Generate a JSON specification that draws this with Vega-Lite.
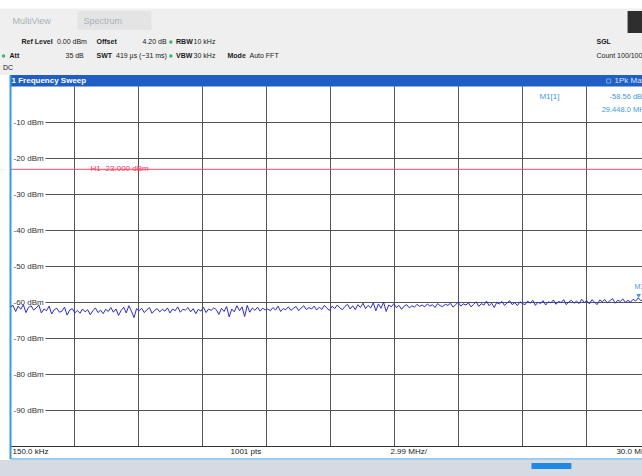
{
"$schema": "https://vega.github.io/schema/vega-lite/v6.json",
"width": 642, "height": 476,
"autosize": {"type": "none"},
"padding": 0,
"background": "#ffffff",
"config": {"view": {"stroke": null}, "font": "Liberation Sans"},
"resolve": {"scale": {"color": "independent"}},
"datasets": {
"rects": [
{"part":"topbg","f":-0.4,"f2":30.5,"db":24.03,"db2":3.19},
{"part":"topwhite","f":-0.4,"f2":30.5,"db":24.03,"db2":21.67},
{"part":"tab","f":3.275,"f2":6.726,"db":20.97,"db2":15.69},
{"part":"darkbox","f":28.93,"f2":30.5,"db":20.97,"db2":14.86},
{"part":"header","f":0.15,"f2":30.5,"db":3.19,"db2":0},
{"part":"status","f":-0.4,"f2":30.5,"db":-103.75,"db2":-108.2},
{"part":"progress","f":24.45,"f2":26.31,"db":-104.58,"db2":-106.25}
],
"rules": [
{"kind":"grid","f":3.135,"f2":3.135,"db":0,"db2":-100},
{"kind":"grid","f":6.12,"f2":6.12,"db":0,"db2":-100},
{"kind":"grid","f":9.105,"f2":9.105,"db":0,"db2":-100},
{"kind":"grid","f":12.09,"f2":12.09,"db":0,"db2":-100},
{"kind":"grid","f":15.075,"f2":15.075,"db":0,"db2":-100},
{"kind":"grid","f":18.06,"f2":18.06,"db":0,"db2":-100},
{"kind":"grid","f":21.045,"f2":21.045,"db":0,"db2":-100},
{"kind":"grid","f":24.03,"f2":24.03,"db":0,"db2":-100},
{"kind":"grid","f":27.015,"f2":27.015,"db":0,"db2":-100},
{"kind":"grid","f":1.78,"f2":30.5,"db":-10,"db2":-10},
{"kind":"grid","f":1.78,"f2":30.5,"db":-20,"db2":-20},
{"kind":"grid","f":1.78,"f2":30.5,"db":-30,"db2":-30},
{"kind":"grid","f":1.78,"f2":30.5,"db":-40,"db2":-40},
{"kind":"grid","f":1.78,"f2":30.5,"db":-50,"db2":-50},
{"kind":"grid","f":1.78,"f2":30.5,"db":-60,"db2":-60},
{"kind":"grid","f":1.78,"f2":30.5,"db":-70,"db2":-70},
{"kind":"grid","f":1.78,"f2":30.5,"db":-80,"db2":-80},
{"kind":"grid","f":1.78,"f2":30.5,"db":-90,"db2":-90},
{"kind":"frame","f":0.15,"f2":30.5,"db":-100,"db2":-100},
{"kind":"limit","f":0.15,"f2":30.5,"db":-23,"db2":-23},
{"kind":"border","f":0.15,"f2":30.5,"db":-103.47,"db2":-103.47}
],
"ylabels": [{"db":-10,"f":0.29,"t":"-10 dBm"},{"db":-20,"f":0.29,"t":"-20 dBm"},{"db":-30,"f":0.29,"t":"-30 dBm"},{"db":-40,"f":0.29,"t":"-40 dBm"},{"db":-50,"f":0.29,"t":"-50 dBm"},{"db":-60,"f":0.29,"t":"-60 dBm"},{"db":-70,"f":0.29,"t":"-70 dBm"},{"db":-80,"f":0.29,"t":"-80 dBm"},{"db":-90,"f":0.29,"t":"-90 dBm"}],
"trace": [
{"f":0.15,"db":-61.2},{"f":0.27,"db":-60.8},{"f":0.39,"db":-62.5},{"f":0.51,"db":-61.0},{"f":0.63,"db":-61.9},{"f":0.75,"db":-60.6},{"f":0.87,"db":-62.8},{"f":0.99,"db":-61.4},{"f":1.11,"db":-60.9},{"f":1.23,"db":-62.1},
{"f":1.35,"db":-61.5},{"f":1.47,"db":-60.7},{"f":1.59,"db":-62.9},{"f":1.71,"db":-61.8},{"f":1.83,"db":-62.3},{"f":1.95,"db":-61.0},{"f":2.07,"db":-63.2},{"f":2.19,"db":-62.0},{"f":2.31,"db":-61.6},{"f":2.43,"db":-62.7},
{"f":2.55,"db":-62.4},{"f":2.67,"db":-61.3},{"f":2.79,"db":-63.5},{"f":2.91,"db":-62.1},{"f":3.03,"db":-61.7},{"f":3.15,"db":-62.9},{"f":3.27,"db":-62.2},{"f":3.39,"db":-63.0},{"f":3.51,"db":-61.8},{"f":3.63,"db":-62.6},
{"f":3.75,"db":-62.0},{"f":3.87,"db":-63.4},{"f":3.99,"db":-62.3},{"f":4.11,"db":-61.5},{"f":4.23,"db":-62.8},{"f":4.35,"db":-62.1},{"f":4.47,"db":-63.1},{"f":4.59,"db":-61.9},{"f":4.71,"db":-62.5},{"f":4.83,"db":-61.4},
{"f":4.95,"db":-62.7},{"f":5.07,"db":-61.8},{"f":5.19,"db":-63.6},{"f":5.31,"db":-62.2},{"f":5.43,"db":-61.3},{"f":5.55,"db":-62.9},{"f":5.67,"db":-60.9},{"f":5.79,"db":-62.4},{"f":5.91,"db":-64.2},{"f":6.03,"db":-61.7},
{"f":6.15,"db":-62.3},{"f":6.27,"db":-61.6},{"f":6.39,"db":-62.8},{"f":6.51,"db":-62.0},{"f":6.63,"db":-61.4},{"f":6.75,"db":-63.0},{"f":6.87,"db":-62.2},{"f":6.99,"db":-61.7},{"f":7.11,"db":-62.6},{"f":7.23,"db":-61.9},
{"f":7.35,"db":-62.4},{"f":7.47,"db":-61.5},{"f":7.59,"db":-62.9},{"f":7.71,"db":-61.8},{"f":7.83,"db":-62.3},{"f":7.95,"db":-61.2},{"f":8.07,"db":-62.7},{"f":8.19,"db":-61.9},{"f":8.31,"db":-62.1},{"f":8.43,"db":-61.4},
{"f":8.55,"db":-62.6},{"f":8.67,"db":-61.7},{"f":8.79,"db":-63.1},{"f":8.91,"db":-61.9},{"f":9.03,"db":-62.4},{"f":9.15,"db":-61.3},{"f":9.27,"db":-62.8},{"f":9.39,"db":-61.8},{"f":9.51,"db":-62.2},{"f":9.63,"db":-61.5},
{"f":9.75,"db":-62.0},{"f":9.87,"db":-63.3},{"f":9.99,"db":-61.6},{"f":10.11,"db":-62.5},{"f":10.23,"db":-61.1},{"f":10.35,"db":-64.0},{"f":10.47,"db":-61.8},{"f":10.59,"db":-62.6},{"f":10.71,"db":-60.9},{"f":10.83,"db":-62.3},
{"f":10.95,"db":-61.2},{"f":11.07,"db":-63.9},{"f":11.19,"db":-60.8},{"f":11.31,"db":-62.7},{"f":11.43,"db":-61.5},{"f":11.55,"db":-62.2},{"f":11.67,"db":-61.3},{"f":11.79,"db":-62.4},{"f":11.91,"db":-61.6},{"f":12.03,"db":-62.0},
{"f":12.15,"db":-61.8},{"f":12.27,"db":-62.3},{"f":12.39,"db":-61.4},{"f":12.51,"db":-62.1},{"f":12.63,"db":-61.0},{"f":12.75,"db":-62.5},{"f":12.87,"db":-61.7},{"f":12.99,"db":-62.0},{"f":13.11,"db":-61.2},{"f":13.23,"db":-62.2},
{"f":13.35,"db":-61.6},{"f":13.47,"db":-61.1},{"f":13.59,"db":-62.3},{"f":13.71,"db":-61.5},{"f":13.83,"db":-60.9},{"f":13.95,"db":-62.0},{"f":14.07,"db":-61.4},{"f":14.19,"db":-61.8},{"f":14.31,"db":-61.0},{"f":14.43,"db":-62.1},
{"f":14.55,"db":-61.3},{"f":14.67,"db":-61.9},{"f":14.79,"db":-60.8},{"f":14.91,"db":-61.6},{"f":15.03,"db":-62.2},{"f":15.15,"db":-61.0},{"f":15.27,"db":-61.7},{"f":15.39,"db":-60.7},{"f":15.51,"db":-61.5},{"f":15.63,"db":-62.0},
{"f":15.75,"db":-61.1},{"f":15.87,"db":-60.5},{"f":15.99,"db":-61.8},{"f":16.11,"db":-60.9},{"f":16.23,"db":-62.0},{"f":16.35,"db":-60.6},{"f":16.47,"db":-61.4},{"f":16.59,"db":-60.2},{"f":16.71,"db":-61.7},{"f":16.83,"db":-60.8},
{"f":16.95,"db":-61.5},{"f":17.07,"db":-60.1},{"f":17.19,"db":-62.3},{"f":17.31,"db":-60.4},{"f":17.43,"db":-61.6},{"f":17.55,"db":-59.9},{"f":17.67,"db":-62.5},{"f":17.79,"db":-60.7},{"f":17.91,"db":-61.2},{"f":18.03,"db":-60.3},
{"f":18.15,"db":-61.4},{"f":18.27,"db":-60.8},{"f":18.39,"db":-61.9},{"f":18.51,"db":-61.0},{"f":18.63,"db":-60.6},{"f":18.75,"db":-61.5},{"f":18.87,"db":-60.9},{"f":18.99,"db":-61.3},{"f":19.11,"db":-60.5},{"f":19.23,"db":-61.1},
{"f":19.35,"db":-60.7},{"f":19.47,"db":-61.2},{"f":19.59,"db":-60.4},{"f":19.71,"db":-61.0},{"f":19.83,"db":-60.6},{"f":19.95,"db":-61.4},{"f":20.07,"db":-60.3},{"f":20.19,"db":-60.9},{"f":20.31,"db":-61.1},{"f":20.43,"db":-60.5},
{"f":20.55,"db":-60.8},{"f":20.67,"db":-60.2},{"f":20.79,"db":-61.3},{"f":20.91,"db":-60.6},{"f":21.03,"db":-59.9},{"f":21.15,"db":-61.0},{"f":21.27,"db":-60.4},{"f":21.39,"db":-60.7},{"f":21.51,"db":-60.1},{"f":21.63,"db":-61.2},
{"f":21.75,"db":-60.5},{"f":21.87,"db":-59.8},{"f":21.99,"db":-61.1},{"f":22.11,"db":-60.3},{"f":22.23,"db":-60.7},{"f":22.35,"db":-59.6},{"f":22.47,"db":-60.9},{"f":22.59,"db":-60.2},{"f":22.71,"db":-61.4},{"f":22.83,"db":-60.0},
{"f":22.95,"db":-60.4},{"f":23.07,"db":-59.7},{"f":23.19,"db":-60.8},{"f":23.31,"db":-60.1},{"f":23.43,"db":-59.5},{"f":23.55,"db":-60.6},{"f":23.67,"db":-60.0},{"f":23.79,"db":-60.9},{"f":23.91,"db":-59.8},{"f":24.03,"db":-60.3},
{"f":24.15,"db":-60.6},{"f":24.27,"db":-59.6},{"f":24.39,"db":-60.2},{"f":24.51,"db":-59.4},{"f":24.63,"db":-60.8},{"f":24.75,"db":-59.9},{"f":24.87,"db":-60.3},{"f":24.99,"db":-59.5},{"f":25.11,"db":-60.7},{"f":25.23,"db":-59.8},
{"f":25.35,"db":-60.1},{"f":25.47,"db":-59.3},{"f":25.59,"db":-60.5},{"f":25.71,"db":-59.7},{"f":25.83,"db":-60.0},{"f":25.95,"db":-59.2},{"f":26.07,"db":-60.6},{"f":26.19,"db":-59.8},{"f":26.31,"db":-59.4},{"f":26.43,"db":-60.2},
{"f":26.55,"db":-59.6},{"f":26.67,"db":-60.3},{"f":26.79,"db":-59.1},{"f":26.91,"db":-60.0},{"f":27.03,"db":-59.5},{"f":27.15,"db":-60.4},{"f":27.27,"db":-59.2},{"f":27.39,"db":-59.9},{"f":27.51,"db":-60.6},{"f":27.63,"db":-59.3},
{"f":27.75,"db":-59.8},{"f":27.87,"db":-59.2},{"f":27.99,"db":-60.1},{"f":28.11,"db":-59.5},{"f":28.23,"db":-58.9},{"f":28.35,"db":-60.2},{"f":28.47,"db":-59.4},{"f":28.59,"db":-59.7},{"f":28.71,"db":-59.0},{"f":28.83,"db":-60.0},
{"f":28.95,"db":-59.4},{"f":29.07,"db":-59.9},{"f":29.19,"db":-59.1},{"f":29.31,"db":-59.6},{"f":29.43,"db":-58.7},{"f":29.55,"db":-59.5},{"f":29.67,"db":-59.0},{"f":29.79,"db":-59.8},{"f":29.91,"db":-59.3},{"f":30.03,"db":-59.6}
],
"infoNormal": [
{"f":2.318,"db":12.36,"t":"0.00 dBm"},
{"f":6.307,"db":12.36,"t":"4.20 dB"},
{"f":8.69,"db":12.36,"t":"10 kHz"},
{"f":2.715,"db":8.47,"t":"35 dB"},
{"f":5.07,"db":8.47,"t":"419 µs (~31 ms)"},
{"f":8.69,"db":8.47,"t":"30 kHz"},
{"f":11.297,"db":8.47,"t":"Auto FFT"},
{"f":-0.2,"db":5.14,"t":"DC"},
{"f":27.48,"db":8.47,"t":"Count 100/100"}
],
"infoBold": [
{"f":0.663,"db":12.36,"t":"Ref Level"},
{"f":4.161,"db":12.36,"t":"Offset"},
{"f":7.87,"db":12.36,"t":"RBW"},
{"f":0.103,"db":8.47,"t":"Att"},
{"f":4.161,"db":8.47,"t":"SWT"},
{"f":7.87,"db":8.47,"t":"VBW"},
{"f":10.271,"db":8.47,"t":"Mode"},
{"f":27.48,"db":12.36,"t":"SGL"}
],
"dots": [{"f":7.63,"db":12.36},{"f":7.63,"db":8.47},{"f":-0.176,"db":8.47}],
"tabs": [{"f":0.243,"db":18.19,"t":"MultiView"},{"f":3.55,"db":18.19,"t":"Spectrum"}],
"markerInfo": [
{"f":29.9,"db":-2.92,"t":"-58.56 dBm"},
{"f":29.9,"db":-6.53,"t":"29.448.0 MHz"}
],
"footer": [
{"f":0.243,"db":-101.53,"t":"150.0 kHz"},
{"f":10.41,"db":-101.53,"t":"1001 pts"},
{"f":17.87,"db":-101.53,"t":"2.99 MHz/"},
{"f":28.41,"db":-101.53,"t":"30.0 MHz"}
]
},
"encoding": {
"x": {"field": "f", "type": "quantitative", "scale": {"domain": [-0.3397, 29.603], "nice": false, "zero": false}, "axis": null},
"y": {"field": "db", "type": "quantitative", "scale": {"domain": [-108.194, 24.028], "nice": false, "zero": false}, "axis": null}
},
"layer": [
{"data": {"name": "rects"}, "mark": {"type": "rect"},
 "encoding": {"x2": {"field": "f2"}, "y2": {"field": "db2"},
  "color": {"field": "part", "type": "nominal", "legend": null,
   "scale": {"domain": ["topbg","topwhite","tab","darkbox","header","status","progress"], "range": ["#efefef","#ffffff","#e4e4e4","#2e2e2e","#1f5fc5","#d6dbe1","#1e88e5"]}}}},
{"data": {"name": "rules"}, "mark": {"type": "rule", "strokeWidth": 1},
 "encoding": {"x2": {"field": "f2"}, "y2": {"field": "db2"},
  "color": {"field": "kind", "type": "nominal", "legend": null,
   "scale": {"domain": ["grid","frame","limit","border"], "range": ["#555555","#333333","#ff4d6a","#3399ee"]}}}},
{"data": {"values": [{"f": 0.15, "f2": 0.15, "db": 3.19, "db2": -103.47}]}, "mark": {"type": "rule", "color": "#3399ee", "strokeWidth": 2},
 "encoding": {"x2": {"field": "f2"}, "y2": {"field": "db2"}}},
{"data": {"name": "trace"}, "mark": {"type": "line", "color": "#2a2ae6", "strokeWidth": 1, "interpolate": "linear"}},
{"data": {"values": [{"f": 29.448, "db": -58.19}]}, "mark": {"type": "point", "shape": "triangle-down", "filled": true, "size": 22, "color": "#3d9ae6", "opacity": 1}},
{"data": {"values": [{"f": 29.25, "db": -55.69, "t": "M1"}]}, "mark": {"type": "text", "align": "left", "baseline": "middle", "fontSize": 7, "color": "#3d9ae6"},
 "encoding": {"text": {"field": "t"}}},
{"data": {"name": "ylabels"}, "mark": {"type": "text", "align": "left", "baseline": "middle", "fontSize": 8, "color": "#333333"},
 "encoding": {"text": {"field": "t"}}},
{"data": {"values": [{"f": 3.88, "db": -23, "t": "H1 -23.000 dBm"}]}, "mark": {"type": "text", "align": "left", "baseline": "middle", "fontSize": 8, "color": "#ff3355"},
 "encoding": {"text": {"field": "t"}}},
{"data": {"values": [{"f": 24.82, "db": -2.92, "t": "M1[1]"}]}, "mark": {"type": "text", "align": "left", "baseline": "middle", "fontSize": 8, "color": "#3d9ae6"},
 "encoding": {"text": {"field": "t"}}},
{"data": {"name": "markerInfo"}, "mark": {"type": "text", "align": "right", "baseline": "middle", "fontSize": 7.5, "color": "#3d9ae6"},
 "encoding": {"text": {"field": "t"}}},
{"data": {"name": "infoNormal"}, "mark": {"type": "text", "align": "left", "baseline": "middle", "fontSize": 7, "color": "#1a1a1a"},
 "encoding": {"text": {"field": "t"}}},
{"data": {"name": "infoBold"}, "mark": {"type": "text", "align": "left", "baseline": "middle", "fontSize": 7, "fontWeight": "bold", "color": "#1a1a1a"},
 "encoding": {"text": {"field": "t"}}},
{"data": {"name": "dots"}, "mark": {"type": "circle", "size": 12, "color": "#3cb371", "opacity": 1}},
{"data": {"name": "tabs"}, "mark": {"type": "text", "align": "left", "baseline": "middle", "fontSize": 9, "color": "#a9b1ba"},
 "encoding": {"text": {"field": "t"}}},
{"data": {"values": [{"f": 0.197, "db": 1.53, "t": "1 Frequency Sweep"}]}, "mark": {"type": "text", "align": "left", "baseline": "middle", "fontSize": 8, "fontWeight": "bold", "color": "#ffffff"},
 "encoding": {"text": {"field": "t"}}},
{"data": {"values": [{"f": 28.05, "db": 1.53}]}, "mark": {"type": "point", "shape": "square", "size": 16, "filled": false, "color": "#9fc3f5", "strokeWidth": 1}},
{"data": {"values": [{"f": 28.32, "db": 1.53, "t": "1Pk Max"}]}, "mark": {"type": "text", "align": "left", "baseline": "middle", "fontSize": 8, "color": "#d6e6ff"},
 "encoding": {"text": {"field": "t"}}},
{"data": {"name": "footer"}, "mark": {"type": "text", "align": "left", "baseline": "middle", "fontSize": 8, "color": "#1a1a1a"},
 "encoding": {"text": {"field": "t"}}}
]
}
